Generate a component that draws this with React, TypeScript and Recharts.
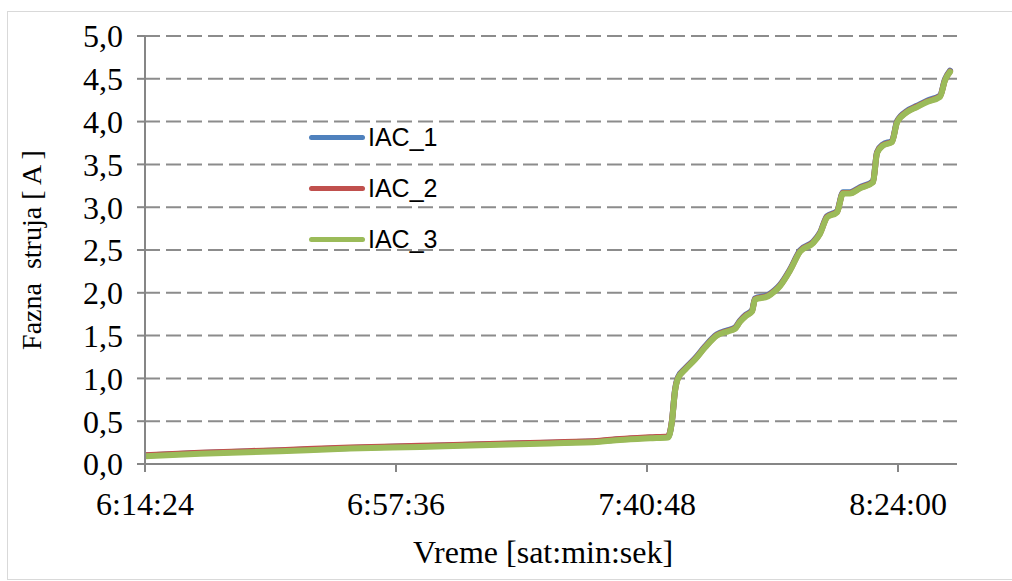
import React from "react";
import { CartesianGrid, Legend, Line, LineChart, XAxis, YAxis } from "recharts";

// time of each reading (h:mm:ss)
const times = [
  "6:14:24", "6:23:52", "6:37:38", "6:49:41", "7:01:44", "7:12:03", "7:24:06", "7:32:43",
  "7:36:09", "7:41:19", "7:44:25", "7:45:06", "7:45:37", "7:46:08", "7:47:20", "7:49:04",
  "7:50:47", "7:52:51", "7:54:45", "7:55:57", "7:56:48", "7:57:50", "7:58:52", "7:59:23",
  "8:01:38", "8:02:50", "8:03:42", "8:05:25", "8:07:08", "8:09:22", "8:10:35", "8:11:47",
  "8:13:30", "8:14:32", "8:15:44", "8:17:28", "8:19:42", "8:20:23", "8:21:25", "8:22:58",
  "8:23:50", "8:25:33", "8:27:16", "8:29:00", "8:31:14", "8:32:05", "8:32:57",
];

const iac1 = [
  0.098, 0.128, 0.158, 0.188, 0.208, 0.228, 0.248, 0.268, 0.288, 0.308, 0.318, 0.51, 0.865, 1.015,
  1.115, 1.235, 1.375, 1.515, 1.565, 1.595, 1.675, 1.745, 1.795, 1.935, 1.975, 2.035, 2.095, 2.275,
  2.495, 2.595, 2.705, 2.895, 2.955, 3.175, 3.175, 3.235, 3.305, 3.645, 3.735, 3.775, 4.005, 4.125,
  4.185, 4.245, 4.305, 4.495, 4.595,
];

const iac2 = [
  0.102, 0.132, 0.162, 0.192, 0.212, 0.232, 0.252, 0.272, 0.292, 0.312, 0.322, 0.51, 0.856, 1.006,
  1.106, 1.226, 1.366, 1.506, 1.556, 1.586, 1.666, 1.736, 1.786, 1.926, 1.966, 2.026, 2.086, 2.266,
  2.486, 2.586, 2.696, 2.886, 2.946, 3.166, 3.166, 3.226, 3.296, 3.636, 3.726, 3.766, 3.996, 4.116,
  4.176, 4.236, 4.296, 4.486, 4.586,
];

const iac3 = [
  0.09, 0.12, 0.15, 0.18, 0.2, 0.22, 0.24, 0.26, 0.28, 0.3, 0.31, 0.5, 0.85, 1.0,
  1.1, 1.22, 1.36, 1.5, 1.55, 1.58, 1.66, 1.73, 1.78, 1.92, 1.96, 2.02, 2.08, 2.26,
  2.48, 2.58, 2.69, 2.88, 2.94, 3.16, 3.16, 3.22, 3.29, 3.63, 3.72, 3.76, 3.99, 4.11,
  4.17, 4.23, 4.29, 4.48, 4.58,
];

const xTickLabels = ["6:14:24", "6:57:36", "7:40:48", "8:24:00"];
const xMaxLabel = "8:34:09";
const yTicks = [0, 0.5, 1, 1.5, 2, 2.5, 3, 3.5, 4, 4.5, 5];

const series = [
  { key: "IAC_1", color: "#4f81bd" },
  { key: "IAC_2", color: "#c0504d" },
  { key: "IAC_3", color: "#9bbb59" },
];

const toSeconds = (s: string) => {
  const [h, m, sec] = s.split(":").map(Number);
  return h * 3600 + m * 60 + sec;
};

const toClock = (v: number) => {
  const h = Math.floor(v / 3600);
  const m = Math.floor((v % 3600) / 60);
  const s = Math.round(v % 60);
  return `${h}:${String(m).padStart(2, "0")}:${String(s).padStart(2, "0")}`;
};

const data = times.map((t, i) => ({
  t: toSeconds(t),
  IAC_1: iac1[i],
  IAC_2: iac2[i],
  IAC_3: iac3[i],
}));

const xTicks = xTickLabels.map(toSeconds);
const serif = "'Liberation Serif', 'Times New Roman', serif";
const axisGray = "#868686";

function renderLegend() {
  return (
    <div style={{ fontFamily: "'Liberation Sans', Arial, sans-serif", fontSize: 25, color: "#000" }}>
      {series.map((s) => (
        <div key={s.key} style={{ height: 51, display: "flex", alignItems: "center" }}>
          <span
            style={{
              display: "inline-block",
              width: 56,
              height: 5,
              borderRadius: 3,
              background: s.color,
              marginRight: 3,
            }}
          />
          <span>{s.key}</span>
        </div>
      ))}
    </div>
  );
}

function renderXTitle(props: any) {
  const vb = props.viewBox;
  return (
    <text
      x={vb.x + vb.width / 2 - 8}
      y={vb.y + vb.height - 15}
      textAnchor="middle"
      fontFamily={serif}
      fontSize={32}
      fill="#000"
    >
      Vreme [sat:min:sek]
    </text>
  );
}

function renderYTitle(props: any) {
  const vb = props.viewBox;
  const x = vb.x + 33;
  const y = vb.y + vb.height / 2;
  return (
    <text
      x={x}
      y={y}
      transform={`rotate(-90, ${x}, ${y})`}
      textAnchor="middle"
      fontFamily={serif}
      fontSize={28}
      fill="#000"
      style={{ whiteSpace: "pre" }}
    >
      {"Fazna  struja [ A ]"}
    </text>
  );
}

export default function App() {
  return (
    <div
      style={{
        position: "absolute",
        left: 7,
        top: 11,
        width: 1010,
        height: 567,
        border: "1px solid #d9d9d9",
        background: "#fff",
      }}
    >
      <LineChart width={1002} height={566} data={data} margin={{ top: 24, right: 53, left: 0, bottom: 0 }}>
        <CartesianGrid
          horizontal
          vertical={false}
          stroke="#8c8c8c"
          strokeWidth={2}
          strokeDasharray="15 6"
        />
        <XAxis
          dataKey="t"
          type="number"
          domain={[xTicks[0], toSeconds(xMaxLabel)]}
          ticks={xTicks}
          tickFormatter={toClock}
          height={114}
          tickSize={8}
          tickMargin={20}
          axisLine={{ stroke: axisGray, strokeWidth: 2 }}
          tickLine={{ stroke: axisGray, strokeWidth: 2 }}
          tick={{ fill: "#000", fontFamily: serif, fontSize: 32 }}
          allowDataOverflow
          label={renderXTitle}
        />
        <YAxis
          type="number"
          domain={[0, 5]}
          ticks={yTicks}
          interval={0}
          tickFormatter={(v: number) => v.toFixed(1).replace(".", ",")}
          width={137}
          tickSize={8}
          tickMargin={14}
          axisLine={{ stroke: axisGray, strokeWidth: 2 }}
          tickLine={{ stroke: axisGray, strokeWidth: 2 }}
          tick={{ fill: "#000", fontFamily: serif, fontSize: 32 }}
          label={renderYTitle}
        />
        <Legend
          layout="vertical"
          align="center"
          verticalAlign="middle"
          content={renderLegend}
          wrapperStyle={{ left: 301, top: 100, width: "auto", height: "auto" }}
        />
        {series.map((s) => (
          <Line
            key={s.key}
            type="monotone"
            dataKey={s.key}
            stroke={s.color}
            strokeWidth={6}
            strokeLinejoin="round"
            strokeLinecap="round"
            dot={false}
            activeDot={false}
            isAnimationActive={false}
          />
        ))}
      </LineChart>
    </div>
  );
}
